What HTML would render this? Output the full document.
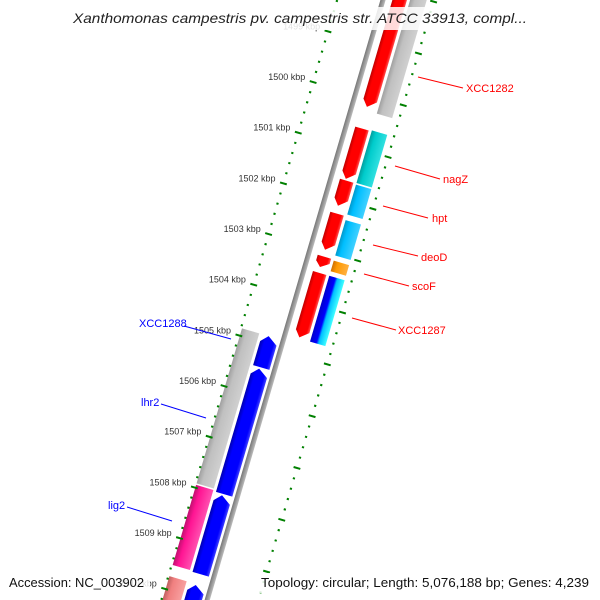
<!DOCTYPE html>
<html><head><meta charset="utf-8"><style>
html,body{margin:0;padding:0;background:#fff;width:600px;height:600px;overflow:hidden;}
svg{display:block;font-family:"Liberation Sans",sans-serif;overflow:hidden;}
</style></head><body>
<svg id="chart" width="600" height="600" viewBox="0 0 600 600" xmlns="http://www.w3.org/2000/svg">
<defs>
<clipPath id="frame"><rect x="0" y="0" width="600" height="600"/></clipPath>
<linearGradient id="gRed" x1="0" x2="1" y1="0" y2="0"><stop offset="0" stop-color="#c00000"/><stop offset="0.25" stop-color="#ff0000"/><stop offset="0.8" stop-color="#ff0000"/><stop offset="1" stop-color="#ff5050"/></linearGradient>
<linearGradient id="gBlue" x1="0" x2="1" y1="0" y2="0"><stop offset="0" stop-color="#0000b0"/><stop offset="0.25" stop-color="#0000ff"/><stop offset="0.8" stop-color="#0000ff"/><stop offset="1" stop-color="#4040ff"/></linearGradient>
<linearGradient id="gGray" x1="0" x2="1" y1="0" y2="0"><stop offset="0" stop-color="#a0a0a0"/><stop offset="0.3" stop-color="#c0c0c0"/><stop offset="1" stop-color="#d0d0d0"/></linearGradient>
<linearGradient id="gTeal" x1="0" x2="1" y1="0" y2="0"><stop offset="0" stop-color="#00a0a0"/><stop offset="0.3" stop-color="#00cccc"/><stop offset="1" stop-color="#30e0e0"/></linearGradient>
<linearGradient id="gSky" x1="0" x2="1" y1="0" y2="0"><stop offset="0" stop-color="#0099cc"/><stop offset="0.3" stop-color="#00bfff"/><stop offset="1" stop-color="#40d0ff"/></linearGradient>
<linearGradient id="gBC" x1="0" x2="1" y1="0" y2="0"><stop offset="0" stop-color="#0000cc"/><stop offset="0.4" stop-color="#0000ff"/><stop offset="0.55" stop-color="#00c0ff"/><stop offset="1" stop-color="#40ffff"/></linearGradient>
<linearGradient id="gPink" x1="0" x2="1" y1="0" y2="0"><stop offset="0" stop-color="#c01070"/><stop offset="0.3" stop-color="#ff1493"/><stop offset="1" stop-color="#ff50b0"/></linearGradient>
<linearGradient id="gSalmon" x1="0" x2="1" y1="0" y2="0"><stop offset="0" stop-color="#c06060"/><stop offset="0.3" stop-color="#f08080"/><stop offset="1" stop-color="#f8a0a0"/></linearGradient>
<linearGradient id="gOrange" x1="0" x2="1" y1="0" y2="0"><stop offset="0" stop-color="#d07000"/><stop offset="0.3" stop-color="#ff9900"/><stop offset="1" stop-color="#ffb040"/></linearGradient>
<linearGradient id="gBack" x1="0" x2="1" y1="0" y2="0"><stop offset="0" stop-color="#777"/><stop offset="0.5" stop-color="#999"/><stop offset="1" stop-color="#bbb"/></linearGradient>
</defs>
<g clip-path="url(#frame)">
<g id="track" transform="translate(383,0) rotate(16.33)">
<rect x="-2.5" y="-60" width="5" height="720" fill="url(#gBack)"/>
</g>
</g>
<g id="labels"></g>
<g font-size="11">
<line x1="418" y1="77" x2="463" y2="88" stroke="#f00"/><text x="466" y="92" fill="#f00">XCC1282</text>
<line x1="395" y1="166" x2="440" y2="179" stroke="#f00"/><text x="443" y="183" fill="#f00">nagZ</text>
<line x1="383" y1="206" x2="428" y2="218" stroke="#f00"/><text x="432" y="222" fill="#f00">hpt</text>
<line x1="373" y1="245" x2="418" y2="256" stroke="#f00"/><text x="421" y="261" fill="#f00">deoD</text>
<line x1="364" y1="274" x2="409" y2="286" stroke="#f00"/><text x="412" y="290" fill="#f00">scoF</text>
<line x1="352" y1="318" x2="396" y2="330" stroke="#f00"/><text x="398" y="334" fill="#f00">XCC1287</text>
<line x1="184" y1="326" x2="231" y2="339" stroke="#00f"/><text x="139" y="327" fill="#00f">XCC1288</text>
<line x1="161" y1="404" x2="206" y2="418" stroke="#00f"/><text x="141" y="406" fill="#00f">lhr2</text>
<line x1="127" y1="507" x2="172" y2="521" stroke="#00f"/><text x="108" y="509" fill="#00f">lig2</text>
</g>
<rect x="68" y="7" width="464" height="23" fill="#fff" fill-opacity="0.85"/>
<text x="73" y="23" font-size="14" font-style="italic" fill="#222" textLength="454" lengthAdjust="spacingAndGlyphs">Xanthomonas campestris pv. campestris str. ATCC 33913, compl...</text>
<rect x="5" y="573" width="145" height="20" fill="#fff" fill-opacity="0.85"/>
<text x="9" y="587" font-size="13" fill="#111" textLength="135" lengthAdjust="spacingAndGlyphs">Accession: NC_003902</text>
<rect x="257" y="573" width="338" height="20" fill="#fff" fill-opacity="0.85"/>
<text x="261" y="587" font-size="13" fill="#111" textLength="328" lengthAdjust="spacingAndGlyphs">Topology: circular; Length: 5,076,188 bp; Genes: 4,239</text>
</svg>
<script>
// gene data (kbp)
const redStarts = [1497.7, 1500.57, 1501.60, 1502.25, 1503.10, 1503.42];
const redEnds   = [1500.18, 1501.60, 1502.13, 1503.00, 1503.34, 1504.73];
const outerNames = ['XCC1282-partner','nagZ','hpt','deoD','scoF','XCC1287'];
const outerStarts = [1497.7, 1500.55, 1501.62, 1502.32, 1503.12, 1503.42];
const outerEnds   = [1500.25, 1501.62, 1502.24, 1503.05, 1503.36, 1504.75];
const outerFills  = ['gGray','gTeal','gSky','gSky','gOrange','gBC'];
const leftStarts = [1504.84, 1507.93, 1509.73];
const leftEnds   = [1507.93, 1509.54, 1510.6];
const leftFills  = ['gGray','gPink','gSalmon'];
const blueStarts = [1504.84, 1505.48, 1507.98, 1509.75];
const blueEnds   = [1505.48, 1507.98, 1509.56, 1510.9];
const kbpTicks = [1499,1500,1501,1502,1503,1504,1505,1506,1507,1508,1509,1510];

const NS='http://www.w3.org/2000/svg';
const C=Math.cos(16.33*Math.PI/180), S=Math.sin(16.33*Math.PI/180);
function sScale(k){ return 98.4 + 52.8*(k-1500); }
function toScreen(u,s){ return [383+u*C-s*S, u*S+s*C]; }
const track=document.getElementById('track');
function poly(pts, fill, name){
  const p=document.createElementNS(NS,'polygon');
  p.setAttribute('points', pts.map(q=>q.join(',')).join(' '));
  p.setAttribute('fill', 'url(#'+fill+')');
  
  
  track.appendChild(p);
}
function gene(a,b,k0,k1,dir,fill,name){
  let s0=sScale(k0)+0.8, s1=sScale(k1)-0.8, h=Math.min(7,(s1-s0)*0.5), m=a+(b-a)*0.4;
  if(dir>0) poly([[a,s0],[b,s0],[b,s1-h],[m,s1],[a,s1-h]],fill,name);
  else if(dir<0) poly([[m,s0],[b,s0+h],[b,s1],[a,s1],[a,s0+h]],fill,name);
  else poly([[a,s0],[b,s0],[b,s1],[a,s1]],fill,name);
}
for(let i=0;i<redStarts.length;i++) gene(9,23,redStarts[i],redEnds[i],1,'gRed','gene-red-'+i);
for(let i=0;i<outerStarts.length;i++) gene(26,42,outerStarts[i],outerEnds[i],0,outerFills[i],'gene-'+outerNames[i]);
for(let i=0;i<leftStarts.length;i++) gene(-43,-25,leftStarts[i],leftEnds[i],0,leftFills[i],'gene-left-'+i);
for(let i=0;i<blueStarts.length;i++) gene(-22,-5,blueStarts[i],blueEnds[i],-1,'gBlue','gene-blue-'+i);

function tick(u,s,len,name){
  const l=document.createElementNS(NS,'line');
  l.setAttribute('x1',u-len/2); l.setAttribute('x2',u+len/2);
  l.setAttribute('y1',s); l.setAttribute('y2',s);
  l.setAttribute('stroke','#008000'); l.setAttribute('stroke-width','2');
  
  
  track.appendChild(l);
}
for(let k=1497;k<=1511.01;k+=0.2){
  const major=Math.abs(k-Math.round(k))<0.01;
  tick(-44,sScale(k),major?7:2.2,major?'scale-major-tick':'scale-minor-tick');
}
for(let j=-15;j<=50;j++){
  const s=149.3+10.8*j;
  tick(49,s,(j%5===0)?7:2.2,(j%5===0)?'outer-major-tick':'outer-minor-tick');
}
const lab=document.getElementById('labels');
kbpTicks.forEach(k=>{
  const p=toScreen(-48,sScale(k));
  const t=document.createElementNS(NS,'text');
  t.setAttribute('x',p[0]-4); t.setAttribute('y',p[1]-1);
  t.setAttribute('text-anchor','end'); t.setAttribute('font-size','9');
  t.setAttribute('fill','#333');
  
  
  t.textContent=k+' kbp';
  lab.appendChild(t);
});
</script>
</body></html>
